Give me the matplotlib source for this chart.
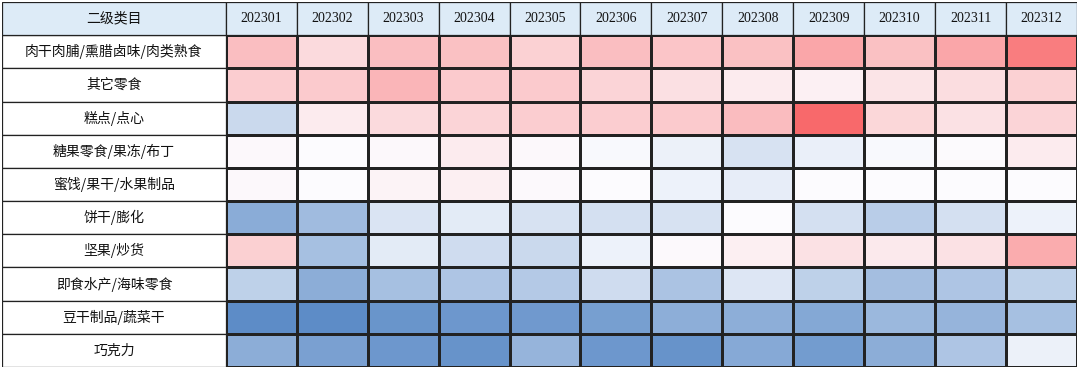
import matplotlib.pyplot as plt
import numpy as np
from matplotlib.colors import LinearSegmentedColormap, TwoSlopeNorm

plt.rcParams['font.family'] = ['Noto Sans CJK SC', 'DejaVu Sans']

header = '二级类目'
months = ['202301', '202302', '202303', '202304', '202305', '202306',
          '202307', '202308', '202309', '202310', '202311', '202312']
categories = ['肉干肉脯/熏腊卤味/肉类熟食', '其它零食', '糕点/点心', '糖果零食/果冻/布丁',
              '蜜饯/果干/水果制品', '饼干/膨化', '坚果/炒货', '即食水产/海味零食',
              '豆干制品/蔬菜干', '巧克力']

# relative index (blue = low, red = high)
meat = [0.42, 0.23, 0.42, 0.40, 0.29, 0.42, 0.37, 0.40, 0.58, 0.40, 0.58, 0.86]
other = [0.32, 0.34, 0.48, 0.34, 0.34, 0.27, 0.19, 0.11, 0.08, 0.16, 0.21, 0.29]
pastry = [-0.31, 0.11, 0.23, 0.27, 0.32, 0.32, 0.34, 0.43, 1.00, 0.25, 0.18, 0.27]
candy = [0.03, 0.00, 0.03, 0.11, 0.03, -0.03, -0.10, -0.23, -0.11, -0.03, 0.01, 0.11]
dried_fruit = [0.03, 0.00, 0.06, 0.09, 0.02, 0.00, -0.09, -0.13, 0.00, 0.00, 0.00, 0.00]
biscuit = [-0.70, -0.57, -0.21, -0.15, -0.23, -0.25, -0.23, 0.00, -0.25, -0.41, -0.25, -0.09]
nuts = [0.30, -0.53, -0.15, -0.28, -0.31, -0.09, 0.02, 0.09, 0.18, 0.13, 0.18, 0.54]
seafood = [-0.38, -0.69, -0.53, -0.48, -0.44, -0.28, -0.50, -0.19, -0.38, -0.54, -0.48, -0.38]
tofu = [-0.98, -0.98, -0.90, -0.88, -0.86, -0.82, -0.68, -0.68, -0.74, -0.60, -0.63, -0.53]
chocolate = [-0.69, -0.80, -0.88, -0.92, -0.63, -0.88, -0.92, -0.72, -0.84, -0.69, -0.48, -0.10]

data = np.array([meat, other, pastry, candy, dried_fruit, biscuit, nuts, seafood, tofu, chocolate])

cmap = LinearSegmentedColormap.from_list('excel', ['#5A8AC6', '#FCFCFF', '#F8696B'])
norm = TwoSlopeNorm(vmin=-1, vcenter=0, vmax=1)

fig = plt.figure(figsize=(10.8, 3.69), dpi=100)
ax = fig.add_axes([2 / 1080, 2 / 369, 1075 / 1080, 365 / 369])

label_w = 224 / 71
n_rows = len(categories)
n_cols = len(months)
x_edges = label_w + np.arange(n_cols + 1)
y_edges = np.arange(n_rows + 1)

ax.pcolormesh(x_edges, y_edges, data, cmap=cmap, norm=norm,
              edgecolor='#222222', linewidth=0.9)

# label column
for i, cat in enumerate(categories):
    ax.add_patch(plt.Rectangle((0, i), label_w, 1, facecolor='white',
                               edgecolor='#222222', linewidth=0.9))
    ax.text(label_w / 2, i + 0.5, cat, ha='center', va='center', fontsize=10, color='#111111')

# header row
ax.add_patch(plt.Rectangle((0, -1), label_w, 1, facecolor='#DDEBF7',
                           edgecolor='#222222', linewidth=0.9))
ax.text(label_w / 2, -0.5, header, ha='center', va='center', fontsize=10, color='#111111')
for j, m in enumerate(months):
    ax.add_patch(plt.Rectangle((label_w + j, -1), 1, 1, facecolor='#DDEBF7',
                               edgecolor='#222222', linewidth=0.9))
    ax.text(label_w + j + 0.5, -0.5, m, ha='center', va='center', fontsize=10,
            family=['Liberation Serif', 'DejaVu Serif'], color='#111111')

ax.set_xlim(0, label_w + n_cols)
ax.set_ylim(n_rows, -1)
ax.axis('off')

fig.savefig('out.png', dpi=100)
